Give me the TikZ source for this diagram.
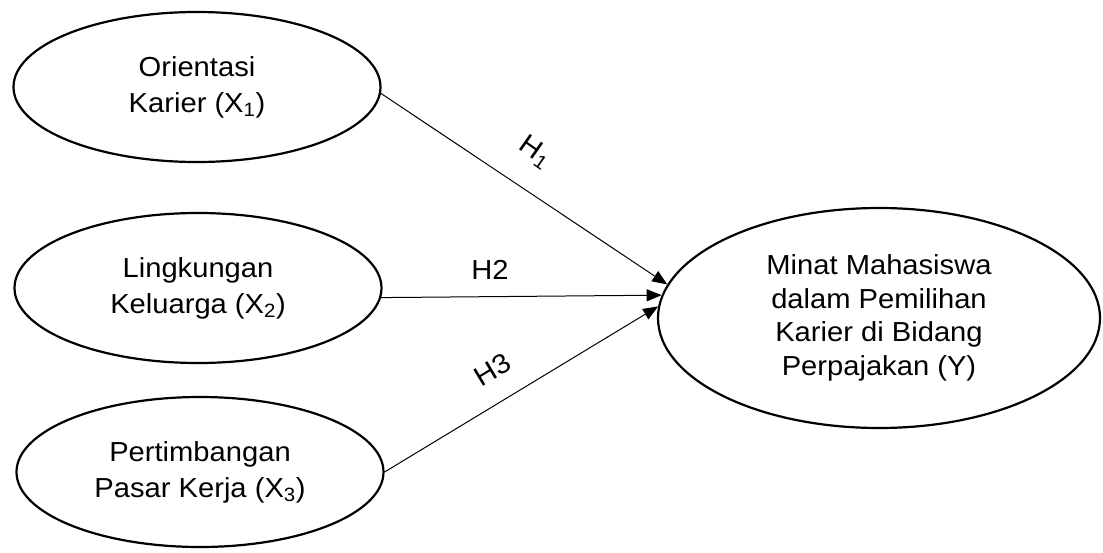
\documentclass[tikz,border=0pt]{standalone}
\usepackage{fontspec}
\setmainfont{Liberation Sans}[FakeStretch=1.06]
\usetikzlibrary{shapes.geometric,arrows.meta}
\begin{document}
\begin{tikzpicture}[x=1pt,y=-1pt,
  var/.style={ellipse,draw,line width=2.2pt,inner sep=0pt,align=center,
    font=\fontsize{27.5}{36}\selectfont},
  leftvar/.style={var,minimum width=367pt,minimum height=150pt},
  conn/.style={line width=1pt,-{Triangle[length=15pt,width=12pt]}},
  hlab/.style={font=\fontsize{27.5}{32}\selectfont,inner sep=0pt}]
\useasboundingbox (0,0) rectangle (1103,552);
\node[leftvar] (x1) at (197,87) {Orientasi\\Karier (X\textsubscript{1})};
\node[leftvar] (x2) at (198,288) {Lingkungan\\Keluarga (X\textsubscript{2})};
\node[leftvar] (x3) at (200,472) {Pertimbangan\\Pasar Kerja (X\textsubscript{3})};
\node[var,minimum width=442pt,minimum height=220pt,
  font=\fontsize{27.5}{33.5}\selectfont] (y) at (879,318)
  {Minat Mahasiswa\\dalam Pemilihan\\Karier di Bidang\\Perpajakan (Y)};
\draw[conn] (x1.-2) -- (y.171);
\draw[conn] (x2.-3) -- (y.174);
\draw[conn] (x3.0) -- (y.177);
\node[hlab,rotate=-35] (h1) at (535,152) {H\textsubscript{1}};
\node[hlab] (h2) at (490,270) {H2};
\node[hlab,rotate=31] (h3) at (493,370) {H3};
\end{tikzpicture}
\end{document}
